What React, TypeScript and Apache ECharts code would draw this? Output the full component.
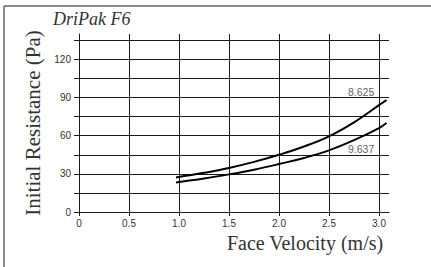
import React, { useEffect, useRef } from "react";
import * as echarts from "echarts";

const title = "DriPak F6";
const xName = "Face Velocity (m/s)";
const yName = "Initial Resistance (Pa)";
const xTicks = [0, 0.5, 1.0, 1.5, 2.0, 2.5, 3.0];
const yTicks = [0, 15, 30, 45, 60, 75, 90, 105, 120, 135];
const yLabels = [0, 30, 60, 90, 120];
const refVelocity = 2.5;

const series8625Name = "8.625";
const series8625 = [
  [0.97, 27.2], [1.25, 30.8], [1.5, 34.6], [1.75, 39.4], [2.0, 45],
  [2.25, 51.5], [2.5, 59.5], [2.75, 70.5], [3.0, 84], [3.075, 88],
];
const series9637Name = "9.637";
const series9637 = [
  [0.97, 23.2], [1.25, 26.3], [1.5, 29.6], [1.75, 33.3], [2.0, 37.7],
  [2.25, 42.5], [2.5, 48.5], [2.75, 56.5], [3.0, 66], [3.075, 70],
];
const labelAnchors = [
  [2.69, 94.5],
  [2.69, 49.6],
];

export default function App() {
  const ref = useRef<HTMLDivElement>(null);
  useEffect(() => {
    if (!ref.current) return;
    const chart = echarts.init(ref.current, undefined, { renderer: "svg" });
    const ink = "#1a1a1a";
    const txt = "#333";
    const sans = "'Liberation Sans', Arial, sans-serif";
    const serif = "'Liberation Serif', 'Times New Roman', serif";
    chart.setOption({
      animation: false,
      backgroundColor: "#fff",
      grid: { left: 79, top: 34, right: 42, bottom: 55 },
      xAxis: {
        type: "value",
        min: 0,
        max: 3.1,
        name: xName,
        nameLocation: "middle",
        nameGap: 19,
        nameTextStyle: { fontFamily: serif, fontSize: 20, color: txt, padding: [0, 0, 0, 142] },
        axisLine: { show: true, lineStyle: { color: ink, width: 1 } },
        axisTick: { show: true, length: 4, inside: false, customValues: xTicks, lineStyle: { color: ink } },
        axisLabel: {
          customValues: xTicks,
          margin: 6,
          fontFamily: sans,
          fontSize: 10,
          color: txt,
          formatter: (v: number) => (v === 0 ? "0" : v.toFixed(1)),
        },
        splitLine: { show: true, lineStyle: { color: ink, width: 1 } },
      },
      yAxis: {
        type: "value",
        min: 0,
        max: 140,
        name: yName,
        nameLocation: "middle",
        nameGap: 35,
        nameTextStyle: { fontFamily: serif, fontSize: 21, color: txt },
        axisLine: { show: true, lineStyle: { color: ink, width: 1 } },
        axisTick: { show: true, length: 5, inside: false, customValues: yTicks, lineStyle: { color: ink } },
        axisLabel: {
          customValues: yLabels,
          margin: 8,
          fontFamily: sans,
          fontSize: 10,
          color: txt,
        },
        splitLine: { show: true, lineStyle: { color: ink, width: 1 } },
      },
      graphic: [
        { type: "line", shape: { x1: 4, y1: 6, x2: 431, y2: 6 }, style: { stroke: ink, lineWidth: 1 } },
        { type: "line", shape: { x1: 4, y1: 6, x2: 4, y2: 267 }, style: { stroke: ink, lineWidth: 1 } },
        {
          type: "text",
          left: 53,
          top: 10,
          style: {
            text: title,
            fill: txt,
            fontFamily: "Liberation Serif",
            fontStyle: "italic",
            fontSize: 18,
          },
        },
      ],
      series: [
        {
          type: "line",
          name: series8625Name,
          data: series8625,
          smooth: 0.4,
          showSymbol: false,
          lineStyle: { color: "#000", width: 2 },
          markLine: {
            silent: true,
            symbol: "none",
            label: { show: false },
            lineStyle: { color: ink, width: 1, type: [6, 4] },
            data: [{ xAxis: refVelocity }],
          },
        },
        {
          type: "line",
          name: series9637Name,
          data: series9637,
          smooth: 0.4,
          showSymbol: false,
          lineStyle: { color: "#000", width: 2 },
        },
        {
          type: "scatter",
          symbolSize: 0,
          data: [
            { value: labelAnchors[0], name: series8625Name },
            { value: labelAnchors[1], name: series9637Name },
          ],
          label: {
            show: true,
            position: "right",
            distance: 0,
            formatter: (p: any) => p.name,
            fontFamily: sans,
            fontSize: 10.5,
            color: txt,
          },
        },
      ],
    });
    return () => chart.dispose();
  }, []);
  return <div ref={ref} style={{ position: "fixed", left: 0, top: 0, width: 431, height: 267 }} />;
}
